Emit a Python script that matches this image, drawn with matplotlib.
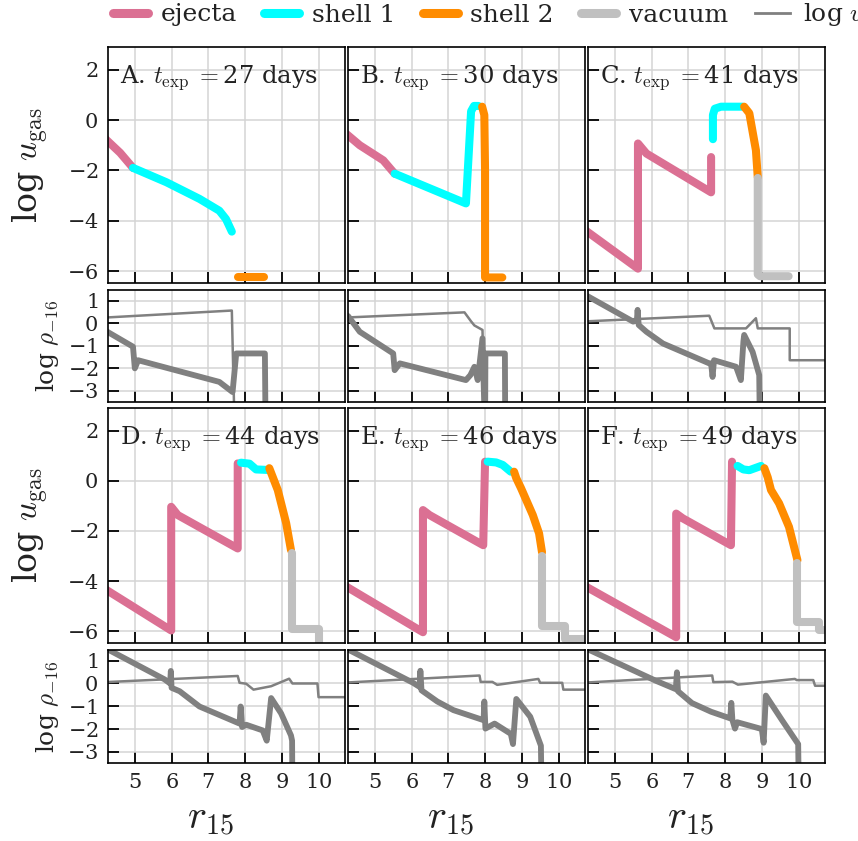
import matplotlib.pyplot as plt
from matplotlib.lines import Line2D

plt.rcParams['font.family'] = 'DejaVu Serif'
plt.rcParams['mathtext.fontset'] = 'cm'
plt.rcParams['axes.formatter.use_mathtext'] = True

letters = ['A', 'B', 'C', 'D', 'E', 'F']
days = [27, 30, 41, 44, 46, 49]
xticks = [5, 6, 7, 8, 9, 10]
u_ticks = [-6, -4, -2, 0, 2]
rho_ticks = [-3, -2, -1, 0, 1]

# log u_gas per region: (r_15, log u)
A_ejecta = ([4.2, 4.6, 4.95], [-0.75, -1.3, -1.9])
A_shell1 = ([4.95, 5.86, 6.76, 7.3, 7.48, 7.64], [-1.9, -2.47, -3.13, -3.6, -3.93, -4.43])
A_shell2 = ([7.81, 8.51], [-6.25, -6.25])
A_vacuum = ([], [])

B_ejecta = ([4.2, 4.59, 5.23, 5.54], [-0.52, -1.0, -1.6, -2.13])
B_shell1 = ([5.54, 7.48, 7.62, 7.7, 7.82], [-2.13, -3.31, 0.35, 0.56, 0.56])
B_shell2 = ([7.92, 7.98, 8.0, 8.0, 8.47], [0.53, 0.2, -2.0, -6.25, -6.25])
B_vacuum = ([], [])

C_ejecta = ([4.2, 5.63, 5.63, 5.86, 7.62, 7.62], [-4.38, -5.9, -0.93, -1.33, -2.87, -1.47])
C_shell1 = ([7.67, 7.67, 7.72, 7.89, 8.48], [-0.76, 0.2, 0.45, 0.53, 0.53])
C_shell2 = ([8.52, 8.66, 8.84, 8.89], [0.53, 0.27, -1.2, -2.27])
C_vacuum = ([8.89, 8.89, 8.95, 9.73], [-2.3, -6.13, -6.2, -6.2])

D_ejecta = ([4.2, 5.99, 5.99, 6.17, 7.8, 7.8], [-4.33, -5.97, -1.04, -1.37, -2.7, 0.69])
D_shell1 = ([7.89, 8.12, 8.3, 8.62], [0.72, 0.68, 0.45, 0.43])
D_shell2 = ([8.66, 8.89, 9.12, 9.25], [0.5, -0.37, -1.7, -2.77])
D_vacuum = ([9.27, 9.27, 10.0, 10.0], [-2.9, -5.9, -5.9, -7.0])

E_ejecta = ([4.2, 6.31, 6.31, 6.49, 7.95, 8.0], [-4.2, -6.04, -1.17, -1.37, -2.57, 0.76])
E_shell1 = ([8.07, 8.3, 8.48, 8.7], [0.76, 0.73, 0.63, 0.36])
E_shell2 = ([8.79, 8.85, 8.98, 9.3, 9.47, 9.55], [0.36, 0.1, -0.3, -1.37, -2.1, -2.85])
E_vacuum = ([9.56, 9.56, 10.17, 10.17, 10.8], [-3.0, -5.8, -5.8, -6.3, -6.3])

F_ejecta = ([4.2, 6.67, 6.67, 6.85, 8.16, 8.19], [-4.21, -6.24, -1.31, -1.5, -2.57, 0.76])
F_shell1 = ([8.34, 8.5, 8.66, 8.98], [0.59, 0.45, 0.42, 0.59])
F_shell2 = ([9.07, 9.16, 9.25, 9.47, 9.74, 9.97], [0.5, 0.14, -0.37, -0.9, -1.84, -3.17])
F_vacuum = ([9.97, 9.97, 10.56, 10.56, 10.8], [-3.3, -5.64, -5.64, -5.97, -5.97])

# lower panels: log rho_-16 (thick) and log v (thin)
A_rho = ([4.2, 4.95, 5.0, 5.09, 7.3, 7.66, 7.76, 8.54, 8.56],
         [-0.33, -1.04, -2.0, -1.64, -2.6, -3.05, -1.34, -1.34, -5.0])
A_v = ([4.2, 7.64, 7.72], [0.25, 0.56, -5.0])

B_rho = ([4.2, 4.28, 4.59, 5.5, 5.54, 5.68, 7.48, 7.6, 7.71, 7.8, 7.93, 8.0, 8.01, 8.54, 8.55],
         [0.4, 0.3, -0.38, -1.34, -2.08, -1.78, -2.52, -2.3, -1.93, -2.52, -0.67, -5.0, -1.34, -1.34, -5.0])
B_v = ([4.2, 7.44, 7.62, 7.71, 7.93, 8.0], [0.25, 0.48, 0.08, -0.1, -0.3, -5.0])

C_rho = ([4.2, 5.5, 5.6, 5.62, 5.65, 5.86, 6.31, 7.57, 7.62, 7.66, 7.7, 8.3, 8.43, 8.5, 8.52, 8.75, 8.93, 8.95],
         [1.25, 0.07, 0.12, 0.59, -0.08, -0.38, -0.9, -1.78, -1.78, -2.38, -1.64, -1.93, -2.52, -0.8, -0.52, -1.27, -2.3, -5.0])
C_v = ([4.2, 7.57, 7.71, 8.57, 8.84, 8.89, 9.76, 9.76, 10.8],
       [0.08, 0.33, -0.23, -0.23, 0.22, -0.23, -0.23, -1.64, -1.64])

D_rho = ([4.2, 5.81, 5.96, 5.98, 6.0, 6.22, 6.76, 7.85, 7.88, 7.92, 8.03, 8.48, 8.59, 8.71, 8.98, 9.25, 9.28, 9.29],
         [1.55, 0.18, 0.0, 0.55, -0.19, -0.34, -1.01, -1.76, -1.01, -1.91, -1.81, -2.06, -2.51, -0.64, -1.31, -2.28, -2.51, -5.0])
D_v = ([4.2, 7.8, 7.85, 8.03, 8.23, 8.71, 9.2, 9.29, 9.97, 10.0, 10.8],
       [0.06, 0.33, 0.03, -0.01, -0.27, -0.12, 0.21, 0.0, 0.0, -0.6, -0.6])

E_rho = ([4.2, 6.03, 6.22, 6.24, 6.27, 6.7, 7.14, 7.96, 7.98, 8.01, 8.26, 8.7, 8.76, 8.85, 9.23, 9.52, 9.54],
         [1.55, 0.04, -0.15, 0.56, -0.3, -0.79, -1.17, -1.61, -0.79, -1.98, -1.76, -2.21, -2.66, -0.68, -1.46, -2.73, -5.0])
E_v = ([4.2, 7.85, 7.88, 8.2, 8.33, 9.45, 9.5, 10.1, 10.13, 10.8],
       [0.04, 0.35, 0.07, 0.07, -0.06, 0.2, 0.03, 0.03, -0.27, -0.27])

F_rho = ([4.2, 6.13, 6.66, 6.69, 6.72, 7.1, 7.62, 8.14, 8.17, 8.2, 8.27, 8.33, 9.0, 9.05, 9.11, 9.55, 9.99, 10.01],
         [1.55, 0.11, -0.25, 0.49, -0.34, -0.86, -1.24, -1.53, -0.85, -1.6, -1.98, -1.7, -2.0, -2.6, -0.53, -1.61, -2.66, -5.0])
F_v = ([4.2, 7.65, 7.68, 8.2, 8.35, 9.9, 9.95, 10.4, 10.45, 10.8],
       [0.04, 0.35, 0.06, 0.08, -0.05, 0.2, 0.15, 0.15, -0.1, -0.1])

region_names = ['ejecta', 'shell 1', 'shell 2', 'vacuum']
region_colors = ['#DB7093', '#00FFFF', '#FF8C00', '#C0C0C0']
gray = '#808080'

u_data = [
    [A_ejecta, A_shell1, A_shell2, A_vacuum],
    [B_ejecta, B_shell1, B_shell2, B_vacuum],
    [C_ejecta, C_shell1, C_shell2, C_vacuum],
    [D_ejecta, D_shell1, D_shell2, D_vacuum],
    [E_ejecta, E_shell1, E_shell2, E_vacuum],
    [F_ejecta, F_shell1, F_shell2, F_vacuum],
]
rho_data = [A_rho, B_rho, C_rho, D_rho, E_rho, F_rho]
v_data = [A_v, B_v, C_v, D_v, E_v, F_v]

W, H = 858, 841
fig = plt.figure(figsize=(W / 100, H / 100), dpi=100)


def rect(x0, y0, x1, y1):
    return [x0 / W, 1 - y1 / H, (x1 - x0) / W, (y1 - y0) / H]


def style(ax, yticks):
    ax.set_xlim(4.27, 10.72)
    ax.set_xticks(xticks)
    ax.set_yticks(yticks)
    ax.grid(True, color='#d4d4d4', lw=1.1)
    ax.set_axisbelow(True)
    ax.tick_params(direction='in', length=8, width=1.3, labelsize=15,
                   top=False, right=False, pad=7, colors='black', labelcolor='#222222')
    for s in ax.spines.values():
        s.set_linewidth(1.2)
        s.set_color('black')


col_left = [108, 348, 588]
top_rows = [(47, 283), (408, 643)]
rho_rows = [(290, 402), (650, 763)]

for k in range(6):
    row, col = divmod(k, 3)
    x0 = col_left[col]
    x1 = x0 + 237

    ax = fig.add_axes(rect(x0, top_rows[row][0], x1, top_rows[row][1]))
    for (r, u), c in zip(u_data[k], region_colors):
        ax.plot(r, u, color=c, lw=5.8, solid_capstyle='round', solid_joinstyle='round')
    style(ax, u_ticks)
    ax.set_ylim(-6.47, 2.9)
    ax.tick_params(labelbottom=False, labelleft=(col == 0))
    ax.text(0.05, 0.87, letters[k] + r'. $t_{\rm exp}\;{=}$' + str(days[k]) + ' days',
            transform=ax.transAxes, fontsize=17.5, va='center', color='#222222')
    if col == 0:
        ax.set_ylabel(r'log $u_{\rm gas}$', fontsize=24, labelpad=11, color='#222222')

    ax2 = fig.add_axes(rect(x0, rho_rows[row][0], x1, rho_rows[row][1]))
    ax2.plot(*rho_data[k], color=gray, lw=4.2, solid_joinstyle='round', solid_capstyle='round')
    ax2.plot(*v_data[k], color=gray, lw=1.8)
    style(ax2, rho_ticks)
    ax2.set_ylim(-3.49, 1.47)
    ax2.tick_params(labelbottom=(row == 1), labelleft=(col == 0))
    if col == 0:
        ax2.set_ylabel(r'log $\rho_{-16}$', fontsize=18, labelpad=4, color='#222222')
    if row == 1:
        ax2.set_xlabel(r'$r_{15}$', fontsize=29, color='#222222')
        ax2.xaxis.set_label_coords(0.432, -0.34)

handles = [Line2D([], [], color=c, lw=6.5, solid_capstyle='round') for c in region_colors]
handles.append(Line2D([], [], color=gray, lw=2))
labels = region_names + [r'log $v$']
fig.legend(handles, labels, loc='center left', bbox_to_anchor=(113 / W, 1 - 15 / H),
           ncol=5, frameon=False, fontsize=18, handlelength=1.4, handletextpad=0.5,
           columnspacing=1.1, borderpad=0, borderaxespad=0, labelcolor='#222222')

fig.savefig('out.png', dpi=100)
